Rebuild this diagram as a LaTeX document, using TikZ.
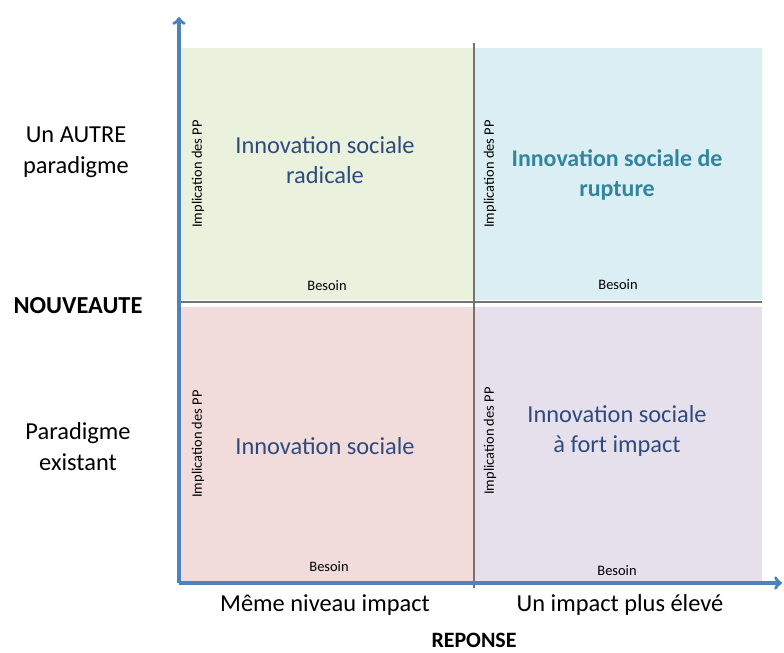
\documentclass[tikz,border=0pt]{standalone}
\usepackage{fontspec}
\setmainfont{Carlito}
\usepackage{tikz}
\usetikzlibrary{arrows,shapes}
\definecolor{quadgreen}{HTML}{EAF1DD}
\definecolor{quadblue}{HTML}{DAEEF3}
\definecolor{quadpink}{HTML}{F2DCDB}
\definecolor{quadmauve}{HTML}{E5E0EC}
\definecolor{titleblue}{HTML}{2F4B7E}
\definecolor{rupteal}{HTML}{31859C}
\definecolor{axisblue}{HTML}{4F81BD}

\begin{document}
\begin{tikzpicture}[
quad/.style={anchor=north west,inner sep=0pt,draw=none},
title/.style={align=center,text=titleblue,font=\fontsize{24.5}{30}\selectfont},
side/.style={align=center,inner sep=1pt,font=\fontsize{24.5}{31}\selectfont},
pp/.style={rotate=90,inner sep=0pt,font=\fontsize{14.5}{16}\selectfont},
besoin/.style={inner sep=0pt,font=\fontsize{14.5}{16}\selectfont},
axis/.style={->,line width=3.5bp,draw=axisblue},
divider/.style={line width=2.5bp,draw=black!55}]

\useasboundingbox (0bp,0bp) rectangle (784bp,-653bp);

\node (TL) at (181bp,-48bp)[quad,fill=quadgreen,minimum width=292bp,minimum height=252bp] {};
\node (TR) at (475bp,-48bp)[quad,fill=quadblue,minimum width=287bp,minimum height=252bp] {};
\node (BL) at (181bp,-307bp)[quad,fill=quadpink,minimum width=292bp,minimum height=276bp] {};
\node (BR) at (475bp,-307bp)[quad,fill=quadmauve,minimum width=287bp,minimum height=276bp] {};

\coordinate (vtop) at (474bp,-43bp);
\coordinate (vbot) at (474bp,-588bp);
\coordinate (hleft) at (178bp,-302bp);
\coordinate (hright) at (762bp,-302bp);
\draw [divider] (vtop) -- (vbot);
\draw [divider] (hleft) -- (hright);

\coordinate (O) at (179bp,-583bp);
\coordinate (ytip) at (179bp,-17bp);
\coordinate (xtip) at (782bp,-583bp);
\draw [axis] (O) -- (ytip);
\draw [axis] (O) -- (xtip);

\node (TLtitle) at (325bp,-160bp)[title] {Innovation sociale\\radicale};
\node (TRtitle) at (617bp,-175bp)[title,text=rupteal,font=\bfseries\fontsize{24}{30}\selectfont] {Innovation sociale de\\rupture};
\node (BLtitle) at (325bp,-446bp)[title] {Innovation sociale};
\node (BRtitle) at (617bp,-431bp)[title] {Innovation sociale\\à fort impact};

\node (TLpp) at (198bp,-174bp)[pp] {Implication des PP};
\node (TRpp) at (490bp,-174bp)[pp] {Implication des PP};
\node (BLpp) at (198bp,-444bp)[pp] {Implication des PP};
\node (BRpp) at (490bp,-441bp)[pp] {Implication des PP};

\node (TLbes) at (327bp,-286bp)[besoin] {Besoin};
\node (TRbes) at (618bp,-285bp)[besoin] {Besoin};
\node (BLbes) at (329bp,-567bp)[besoin] {Besoin};
\node (BRbes) at (617bp,-571bp)[besoin] {Besoin};

\node (autre) at (76bp,-152bp)[side] {Un AUTRE\\paradigme};
\node (nouv) at (78bp,-306bp)[side,font=\bfseries\fontsize{24.5}{30}\selectfont] {NOUVEAUTE};
\node (exist) at (78bp,-447bp)[side] {Paradigme\\existant};
\node (meme) at (325bp,-605bp)[side] {Même niveau impact};
\node (plus) at (620bp,-605bp)[side] {Un impact plus élevé};
\node (rep) at (474bp,-640bp)[side,inner sep=0pt,font=\bfseries\fontsize{22}{26}\selectfont] {REPONSE};
\end{tikzpicture}
\end{document}
